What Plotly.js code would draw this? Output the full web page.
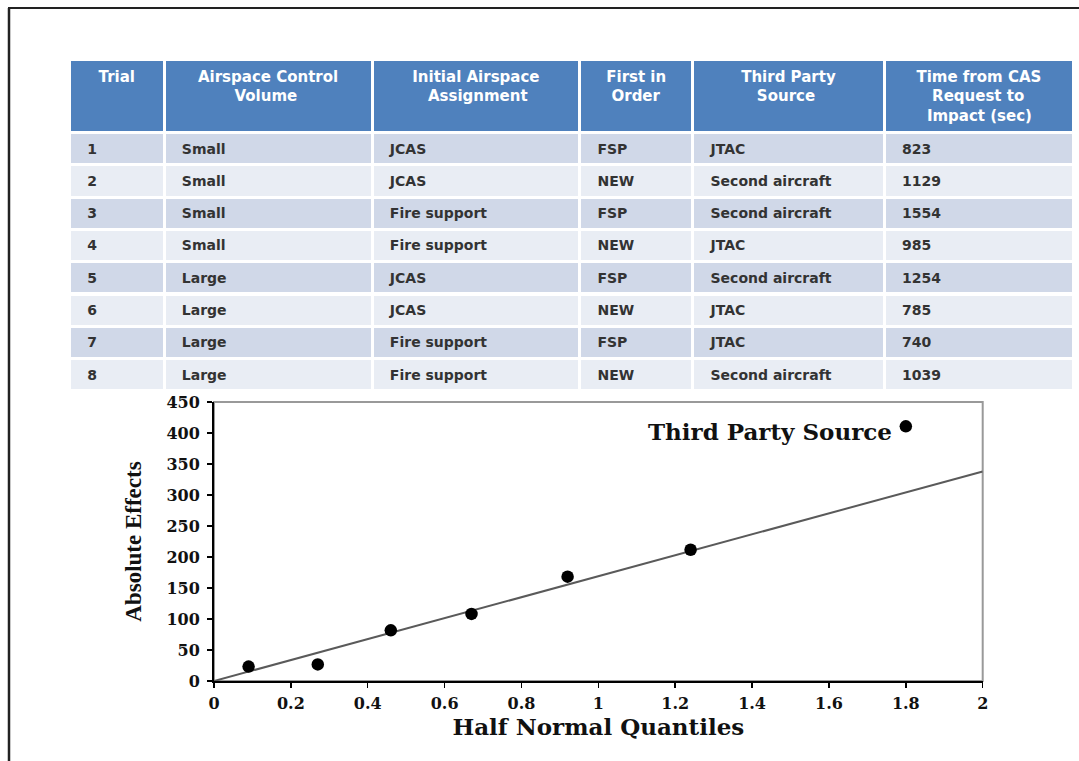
<!DOCTYPE html>
<html>
<head>
<meta charset="utf-8">
<script src="https://cdn.plot.ly/plotly-3.0.1.min.js"></script>
<style>
  html, body { margin: 0; padding: 0; background: #ffffff; }
  #chart { width: 1079px; height: 761px; }
</style>
</head>
<body>
<div id="chart"></div>
<script>
// ---- Table data ----
const headers = ['Trial', 'Airspace Control<br>Volume', 'Initial Airspace<br>Assignment',
                 'First in<br>Order', 'Third Party<br>Source', 'Time from CAS<br>Request to<br>Impact (sec)'];
const trials = ['1', '2', '3', '4', '5', '6', '7', '8'];
const volume = ['Small', 'Small', 'Small', 'Small', 'Large', 'Large', 'Large', 'Large'];
const assignment = ['JCAS', 'JCAS', 'Fire support', 'Fire support', 'JCAS', 'JCAS', 'Fire support', 'Fire support'];
const firstIn = ['FSP', 'NEW', 'FSP', 'NEW', 'FSP', 'NEW', 'FSP', 'NEW'];
const thirdParty = ['JTAC', 'Second aircraft', 'Second aircraft', 'JTAC', 'Second aircraft', 'JTAC', 'JTAC', 'Second aircraft'];
const timeSec = [823, 1129, 1554, 985, 1254, 785, 740, 1039];

// ---- Half-normal plot data ----
const quantiles = [0.09, 0.27, 0.46, 0.67, 0.92, 1.24, 1.80];
const absEffects = [23.25, 26.75, 81.75, 108.25, 168.25, 211.75, 410.75];
const fitX = [0, 2];
const fitY = [0, 338];
const labelText = 'Third Party Source';

// ---- Build ----
const W = 1079, H = 761;
const px = v => v / W;
const py = v => 1 - v / H;

const headFont = 'bold 15px "DejaVu Sans"';
const ctx = document.createElement('canvas').getContext('2d');
ctx.font = headFont;
const nbspW = ctx.measureText('\u00a0').width || 4.8;
// Center each header line within its block (table aligns lines to a common left edge)
const centerLines = s => {
  const lines = s.split('<br>');
  const widths = lines.map(l => ctx.measureText(l).width);
  const maxW = Math.max(...widths);
  return lines.map((l, i) => {
    const n = Math.round((maxW - widths[i]) / 2 / nbspW);
    return '<b>' + '&nbsp;'.repeat(n) + l + '</b>';
  }).join('<br>');
};
const pad = s => '&nbsp;&nbsp;' + s;
const columns = [trials, volume, assignment, firstIn, thirdParty, timeSec.map(String)]
  .map(col => col.map(v => '<b>' + pad(v) + '</b>'));
const rowColors = trials.map((_, i) => i % 2 === 0 ? '#d0d8e8' : '#e9edf4');

const table = {
  type: 'table',
  domain: { x: [px(69.5), px(1073.5)], y: [py(396), py(59.5)] },
  columnwidth: [94.3, 207.5, 207, 112.8, 191, 188.7],
  header: {
    values: headers.map(centerLines),
    align: 'center',
    height: 69,
    fill: { color: '#4f81bd' },
    line: { color: '#ffffff', width: 3 },
    font: { family: 'DejaVu Sans', size: 15, color: '#ffffff' }
  },
  cells: {
    values: columns,
    align: 'left',
    height: 32.3,
    fill: { color: columns.map(() => rowColors) },
    line: { color: '#ffffff', width: 3 },
    font: { family: 'DejaVu Sans', size: 14, color: '#333333' }
  }
};

const fit = {
  type: 'scatter', mode: 'lines', x: fitX, y: fitY,
  line: { color: '#5a5a5a', width: 2 }, hoverinfo: 'skip', showlegend: false
};
const pts = {
  type: 'scatter', mode: 'markers', x: quantiles, y: absEffects,
  marker: { color: '#000000', size: 12.5, symbol: 'circle' }, showlegend: false
};

const serifBold = 'DejaVu Serif';

const layout = {
  width: W, height: H,
  margin: { l: 0, r: 0, t: 0, b: 0 },
  paper_bgcolor: '#ffffff', plot_bgcolor: '#ffffff',
  showlegend: false,
  xaxis: {
    domain: [px(214), px(982.7)],
    range: [0, 2], dtick: 0.2, tick0: 0,
    showgrid: false, zeroline: false,
    showline: true, linecolor: '#000000', linewidth: 2,
    ticks: 'outside', ticklen: 5, tickwidth: 1.5, tickcolor: '#000000',
    tickfont: { family: serifBold, size: 16, color: '#111111', weight: 'bold' },
    ticklabelstandoff: 2,
    title: { text: 'Half Normal Quantiles', font: { family: serifBold, size: 23, color: '#111111', weight: 'bold' }, standoff: 4 },
    fixedrange: true
  },
  yaxis: {
    domain: [py(681), py(402)],
    range: [0, 450], dtick: 50, tick0: 0,
    showgrid: false, zeroline: false,
    showline: true, linecolor: '#000000', linewidth: 2,
    ticks: 'outside', ticklen: 5, tickwidth: 2, tickcolor: '#000000',
    tickfont: { family: serifBold, size: 16, color: '#111111', weight: 'bold' },
    ticklabelstandoff: 4,
    title: { text: 'Absolute Effects', font: { family: 'Liberation Serif', size: 23, color: '#111111', weight: 'bold' }, standoff: 18 },
    fixedrange: true
  },
  shapes: [
    { type: 'rect', xref: 'x domain', yref: 'y domain', x0: 0, x1: 1, y0: 0, y1: 1,
      line: { color: '#999999', width: 2 }, layer: 'below' },
    { type: 'line', xref: 'paper', yref: 'paper', x0: px(8), x1: 1, y0: py(8), y1: py(8),
      line: { color: '#222222', width: 2 } },
    { type: 'line', xref: 'paper', yref: 'paper', x0: px(9), x1: px(9), y0: 0, y1: py(8),
      line: { color: '#222222', width: 2.5 } }
  ],
  annotations: [
    { x: quantiles[quantiles.length - 1], y: absEffects[absEffects.length - 1],
      xref: 'x', yref: 'y', text: '<b>' + labelText + '</b>', showarrow: false,
      xanchor: 'right', yanchor: 'middle', xshift: -12, yshift: -5,
      font: { family: serifBold, size: 23, color: '#111111' } }
  ]
};

Plotly.newPlot('chart', [table, fit, pts], layout, { displayModeBar: false, staticPlot: true });
</script>
</body>
</html>
